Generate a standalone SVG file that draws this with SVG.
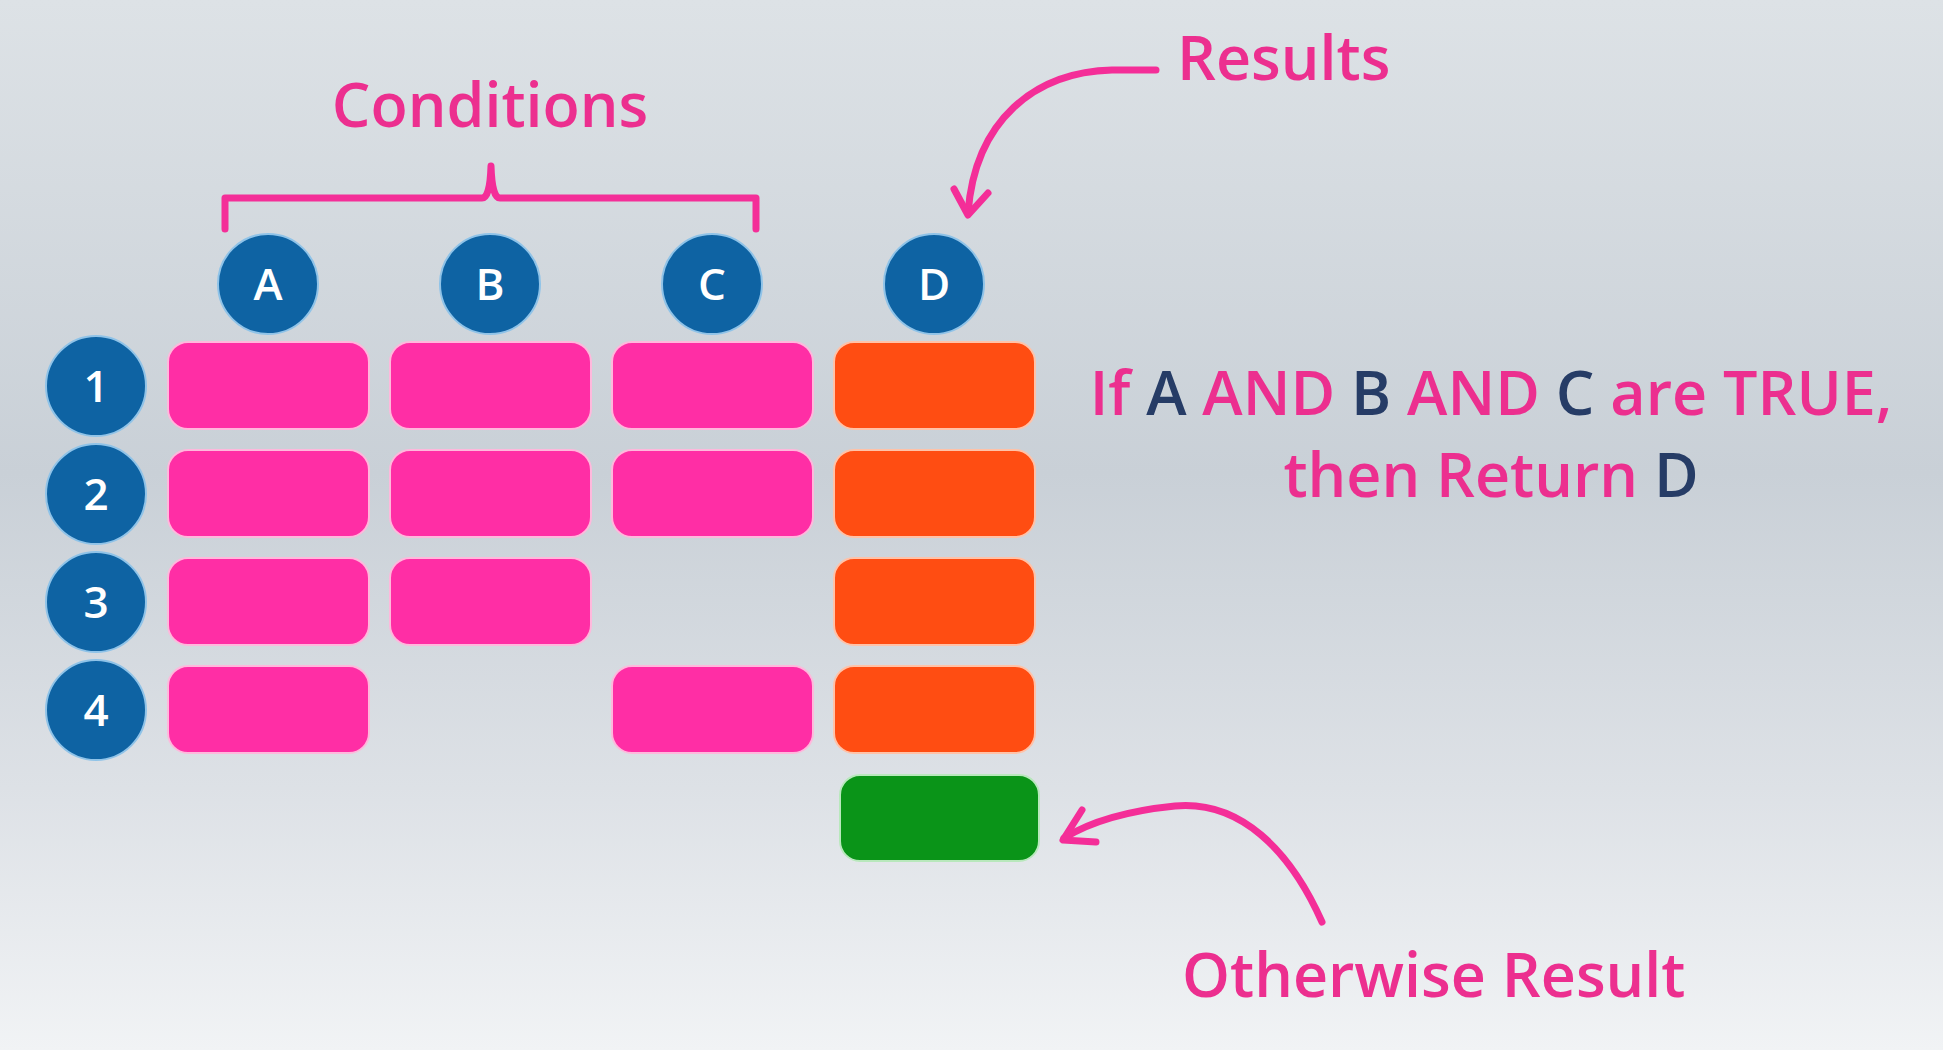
<svg xmlns="http://www.w3.org/2000/svg" width="1943" height="1050" viewBox="0 0 1943 1050">
<defs>
<linearGradient id="bg" x1="0" y1="0" x2="0" y2="1">
<stop offset="0" stop-color="#dde2e6"/>
<stop offset="0.45" stop-color="#c9d0d7"/>
<stop offset="0.75" stop-color="#dde1e6"/>
<stop offset="1" stop-color="#f1f3f5"/>
</linearGradient>
<style>
.lbl{font-family:"Open Sans","Noto Sans","Liberation Sans",sans-serif;font-size:61px;font-weight:600;fill:#ec2f8f;}
.nav{fill:#263c66;}
.circ{fill:#0e63a3;stroke:#8fc3e8;stroke-width:2;}
.ct{font-family:"Open Sans","Noto Sans","Liberation Sans",sans-serif;font-size:44px;fill:#ffffff;text-anchor:middle;font-weight:600;}
.pk{fill:#ff2ea5;stroke:#ffb8dc;stroke-width:2;}
.or{fill:#ff4d12;stroke:#ffc2a8;stroke-width:2;}
.gr{fill:#0a9418;stroke:#b8e8bc;stroke-width:2;}
.con{fill:none;stroke:#f42e98;stroke-width:7;stroke-linecap:round;stroke-linejoin:round;}
</style>
</defs>
<rect x="0" y="0" width="1943" height="1050" fill="url(#bg)"/>

<g id="title-conditions"><text class="lbl" x="490" y="127" text-anchor="middle">Conditions</text></g>
<g id="title-results"><text class="lbl" x="1177" y="80">Results</text></g>
<g id="title-otherwise"><text class="lbl" x="1182" y="997">Otherwise Result</text></g>
<g id="sentence">
<text class="lbl" x="1491" y="415" text-anchor="middle">If <tspan class="nav">A</tspan> AND <tspan class="nav">B</tspan> AND <tspan class="nav">C</tspan> are TRUE,</text>
<text class="lbl" x="1491" y="497" text-anchor="middle">then Return <tspan class="nav">D</tspan></text>
</g>

<g id="col-A"><circle class="circ" cx="268" cy="284" r="50"/><text class="ct" x="268" y="300">A</text></g>
<g id="col-B"><circle class="circ" cx="490" cy="284" r="50"/><text class="ct" x="490" y="300">B</text></g>
<g id="col-C"><circle class="circ" cx="712" cy="284" r="50"/><text class="ct" x="712" y="300">C</text></g>
<g id="col-D"><circle class="circ" cx="934" cy="284" r="50"/><text class="ct" x="934" y="300">D</text></g>

<g id="row-1"><circle class="circ" cx="96" cy="386" r="50"/><text class="ct" x="96" y="402">1</text></g>
<g id="row-2"><circle class="circ" cx="96" cy="494" r="50"/><text class="ct" x="96" y="510">2</text></g>
<g id="row-3"><circle class="circ" cx="96" cy="602" r="50"/><text class="ct" x="96" y="618">3</text></g>
<g id="row-4"><circle class="circ" cx="96" cy="710" r="50"/><text class="ct" x="96" y="726">4</text></g>

<g id="cells">
<rect class="pk" x="168" y="342" width="201" height="87" rx="20"/>
<rect class="pk" x="390" y="342" width="201" height="87" rx="20"/>
<rect class="pk" x="612" y="342" width="201" height="87" rx="20"/>
<rect class="or" x="834" y="342" width="201" height="87" rx="20"/>

<rect class="pk" x="168" y="450" width="201" height="87" rx="20"/>
<rect class="pk" x="390" y="450" width="201" height="87" rx="20"/>
<rect class="pk" x="612" y="450" width="201" height="87" rx="20"/>
<rect class="or" x="834" y="450" width="201" height="87" rx="20"/>

<rect class="pk" x="168" y="558" width="201" height="87" rx="20"/>
<rect class="pk" x="390" y="558" width="201" height="87" rx="20"/>
<rect class="or" x="834" y="558" width="201" height="87" rx="20"/>

<rect class="pk" x="168" y="666" width="201" height="87" rx="20"/>
<rect class="pk" x="612" y="666" width="201" height="87" rx="20"/>
<rect class="or" x="834" y="666" width="201" height="87" rx="20"/>
</g>
<g id="otherwise-cell"><rect class="gr" x="840" y="775" width="199" height="86" rx="20"/></g>

<g id="connectors">
<path class="con" d="M225,229 L225,198 L482,198 Q490,198 491,166 Q492,198 500,198 L756,198 L756,229"/>
<path class="con" d="M1156,70 L1112,70 C1035,72 975,120 968,213"/>
<path class="con" d="M954,189 L968,215 L988,193"/>
<path class="con" d="M1322,922 C1290,850 1240,800 1175,806 C1125,811 1090,822 1064,838"/>
<path class="con" d="M1082,810 L1063,840 L1096,842"/>
</g>
</svg>
